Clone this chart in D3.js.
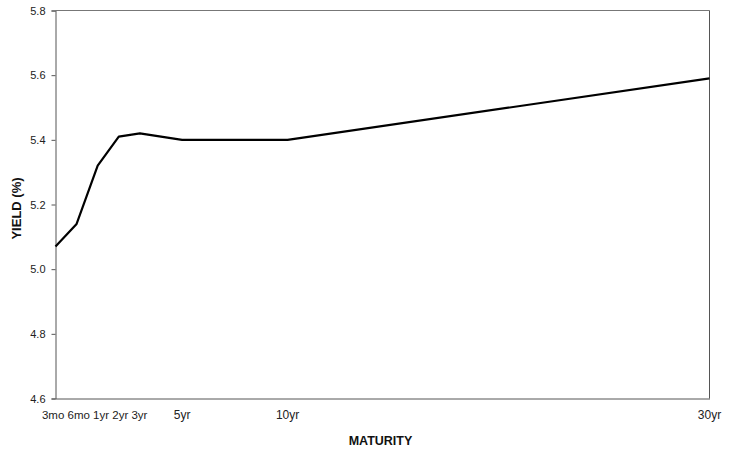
<!DOCTYPE html>
<html>
<head>
<meta charset="utf-8">
<script src="https://cdn.jsdelivr.net/npm/d3@7"></script>
<style>
  html, body { margin: 0; padding: 0; background: #fff; }
  svg { display: block; font-family: Arial, "Liberation Sans", sans-serif; }
</style>
</head>
<body>
<svg id="chart" width="729" height="454"></svg>
<script>
// ---- data ----
const maturities = ["3mo", "6mo", "1yr", "2yr", "3yr", "5yr", "10yr", "30yr"];
const yields = [5.07, 5.14, 5.32, 5.41, 5.42, 5.40, 5.40, 5.59];
const yTicks = [4.6, 4.8, 5.0, 5.2, 5.4, 5.6, 5.8];
const shortEnd = ["3mo", "6mo", "1yr", "2yr", "3yr"];
const longEnd = ["5yr", "10yr", "30yr"];
const xTitle = "MATURITY";
const yTitle = "YIELD (%)";

// category slots (one per year, as in the original category axis)
const slots = ["3mo", "6mo"].concat(d3.range(1, 31).map(d => d + "yr"));

const svg = d3.select("#chart");
const plot = { left: 55.5, right: 709.5, top: 10.5, bottom: 398.5 };

const x = d3.scalePoint().domain(slots).range([plot.left, plot.right]).padding(0);
const y = d3.scaleLinear().domain([4.6, 5.8]).range([plot.bottom, plot.top]);

// frame (top & right)
svg.append("line").attr("x1", plot.left).attr("x2", plot.right)
  .attr("y1", plot.top).attr("y2", plot.top).attr("stroke", "#777").attr("stroke-width", 1);
svg.append("line").attr("x1", plot.right).attr("x2", plot.right)
  .attr("y1", plot.top).attr("y2", plot.bottom).attr("stroke", "#555").attr("stroke-width", 1);

// y axis
const yAxis = d3.axisLeft(y).tickValues(yTicks).tickFormat(d3.format(".1f")).tickSizeOuter(0).tickSize(4).tickPadding(6);
const gy = svg.append("g").attr("transform", `translate(${plot.left},0)`).call(yAxis);
gy.select(".domain").attr("stroke", "#555");
gy.selectAll(".tick line").attr("stroke", "#555");
gy.selectAll(".tick text").attr("font-size", 11).attr("fill", "#222")
  .attr("font-family", "Arial, 'Liberation Sans', sans-serif");

// x axis line
const xAxis = d3.axisBottom(x).tickValues([]).tickSizeOuter(0);
const gx = svg.append("g").attr("transform", `translate(0,${plot.bottom})`).call(xAxis);
gx.select(".domain").attr("stroke", "#555");

// x labels: crowded short end written as one run of text, long end centred
const labelY = 419;
const shortMid = (x(shortEnd[0]) + x(shortEnd[shortEnd.length - 1])) / 2 - 3;
svg.append("text").attr("x", shortMid).attr("y", labelY)
  .attr("text-anchor", "middle").attr("font-size", 11.5).attr("fill", "#222")
  .text(shortEnd.join(" "));
svg.selectAll("text.xl").data(longEnd).enter().append("text").attr("class", "xl")
  .attr("x", d => x(d)).attr("y", labelY)
  .attr("text-anchor", "middle").attr("font-size", 12).attr("fill", "#222")
  .text(d => d);

// titles
svg.append("text").attr("x", (plot.left + plot.right) / 2 - 2).attr("y", 445)
  .attr("text-anchor", "middle").attr("font-size", 12.5).attr("font-weight", "bold")
  .attr("fill", "#111").text(xTitle);
svg.append("text").attr("transform", `translate(21,${(plot.top + plot.bottom) / 2 + 4}) rotate(-90)`)
  .attr("text-anchor", "middle").attr("font-size", 13).attr("font-weight", "bold")
  .attr("fill", "#111").text(yTitle);

// line
const data = maturities.map((m, i) => ({ m, v: yields[i] }));
svg.append("path").datum(data)
  .attr("fill", "none").attr("stroke", "#000").attr("stroke-width", 2.2)
  .attr("stroke-linejoin", "round")
  .attr("d", d3.line().x(d => x(d.m)).y(d => y(d.v)));
</script>
</body>
</html>
